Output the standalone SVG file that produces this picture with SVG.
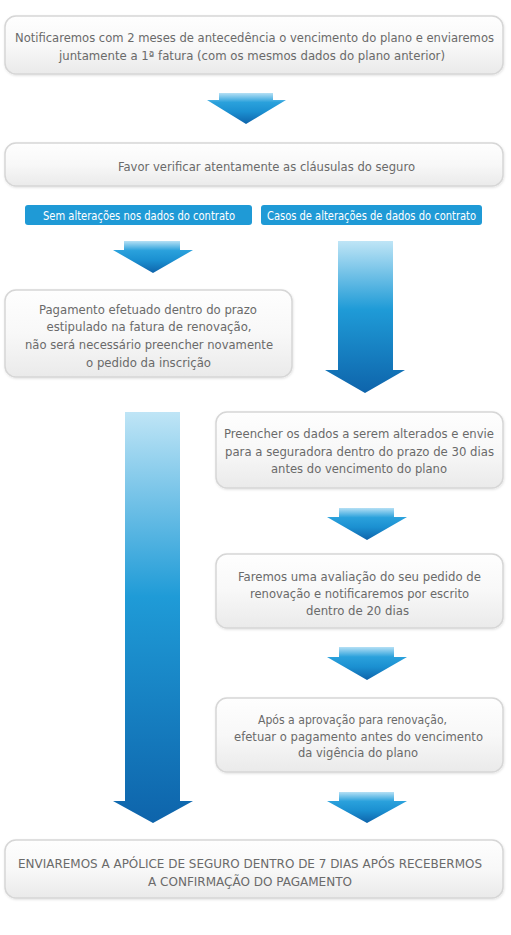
<svg xmlns="http://www.w3.org/2000/svg" width="511" height="935" viewBox="0 0 511 935">
<style>
  .box { fill: url(#boxGrad); stroke: #d6d6d6; stroke-width: 1.5; filter: url(#shadow); }
  .t { font-family: "DejaVu Sans Condensed", "DejaVu Sans", sans-serif; font-size: 13px; fill: #6a6a6a; text-anchor: middle; }
  .lbl { fill: #1f9ad6; }
  .lt { font-family: "DejaVu Sans Condensed", "DejaVu Sans", sans-serif; font-size: 12.5px; fill: #ffffff; text-anchor: middle; }
  .ash { fill: url(#shortGrad); }
  .alg { fill: url(#longGrad); }
</style>
<defs>
  <linearGradient id="boxGrad" x1="0" y1="0" x2="0" y2="1">
    <stop offset="0" stop-color="#fefefe"/>
    <stop offset="0.5" stop-color="#f8f8f8"/>
    <stop offset="1" stop-color="#eaeaea"/>
  </linearGradient>
  <linearGradient id="shortGrad" x1="0" y1="0" x2="0" y2="1">
    <stop offset="0" stop-color="#b5e0f5"/>
    <stop offset="0.3" stop-color="#2aa1dc"/>
    <stop offset="0.6" stop-color="#1b90d1"/>
    <stop offset="1" stop-color="#0e64ab"/>
  </linearGradient>
  <linearGradient id="longGrad" x1="0" y1="0" x2="0" y2="1">
    <stop offset="0" stop-color="#bfe5f6"/>
    <stop offset="0.45" stop-color="#1f9bd7"/>
    <stop offset="1" stop-color="#0e64ab"/>
  </linearGradient>
  <filter id="shadow" x="-5%" y="-10%" width="110%" height="130%">
    <feDropShadow dx="0.5" dy="1" stdDeviation="1" flood-color="#000" flood-opacity="0.12"/>
  </filter>
</defs>
<rect width="511" height="935" fill="#ffffff"/>

<g id="connectors">
  <polygon class="ash" points="219,93 273,93 273,100 286,100 246,124 207,100 219,100"/>
  <polygon class="ash" points="124,241 180,241 180,250 193,250 153,273 113,250 124,250"/>
  <polygon class="alg" points="338,241 393,241 393,370 405,370 365,393 325,370 338,370"/>
  <polygon class="alg" points="125,412 180,412 180,801 193,801 153,823 113,801 125,801"/>
  <polygon class="ash" points="339,508 394,508 394,517 407,517 367,540 327,517 339,517"/>
  <polygon class="ash" points="339,647 394,647 394,657 407,657 367,680 327,657 339,657"/>
  <polygon class="ash" points="339,792 394,792 394,801 407,801 367,823 327,801 339,801"/>
</g>

<g id="node-notify">
  <rect class="box" x="5" y="16" width="498" height="58" rx="11"/>
  <text class="t" x="254.5" y="42" textLength="479" lengthAdjust="spacingAndGlyphs">Notificaremos com 2 meses de antecedência o vencimento do plano e enviaremos</text>
  <text class="t" x="252" y="60" textLength="386" lengthAdjust="spacingAndGlyphs">juntamente a 1ª fatura (com os mesmos dados do plano anterior)</text>
</g>

<g id="node-verify">
  <rect class="box" x="5" y="143" width="498" height="43" rx="11"/>
  <text class="t" x="266.5" y="171" textLength="297" lengthAdjust="spacingAndGlyphs">Favor verificar atentamente as cláusulas do seguro</text>
</g>

<g id="label-sem">
  <rect class="lbl" x="25" y="205" width="227" height="20" rx="3"/>
  <text class="lt" x="139" y="220" textLength="192" lengthAdjust="spacingAndGlyphs">Sem alterações nos dados do contrato</text>
</g>

<g id="label-casos">
  <rect class="lbl" x="261" y="205" width="221" height="20" rx="3"/>
  <text class="lt" x="371.5" y="220" textLength="209" lengthAdjust="spacingAndGlyphs">Casos de alterações de dados do contrato</text>
</g>

<g id="node-pagamento">
  <rect class="box" x="5" y="290" width="287" height="87" rx="11"/>
  <text class="t" x="148" y="314" textLength="218" lengthAdjust="spacingAndGlyphs">Pagamento efetuado dentro do prazo</text>
  <text class="t" x="149" y="331" textLength="205" lengthAdjust="spacingAndGlyphs">estipulado na fatura de renovação,</text>
  <text class="t" x="149" y="349" textLength="248" lengthAdjust="spacingAndGlyphs">não será necessário preencher novamente</text>
  <text class="t" x="148.5" y="367" textLength="125" lengthAdjust="spacingAndGlyphs">o pedido da inscrição</text>
</g>

<g id="node-preencher">
  <rect class="box" x="216" y="412" width="287" height="76" rx="11"/>
  <text class="t" x="359" y="438" textLength="270" lengthAdjust="spacingAndGlyphs">Preencher os dados a serem alterados e envie</text>
  <text class="t" x="359.5" y="456" textLength="269" lengthAdjust="spacingAndGlyphs">para a seguradora dentro do prazo de 30 dias</text>
  <text class="t" x="359" y="473" textLength="176" lengthAdjust="spacingAndGlyphs">antes do vencimento do plano</text>
</g>

<g id="node-avaliacao">
  <rect class="box" x="216" y="554" width="287" height="74" rx="11"/>
  <text class="t" x="359.5" y="581" textLength="243" lengthAdjust="spacingAndGlyphs">Faremos uma avaliação do seu pedido de</text>
  <text class="t" x="359.5" y="598" textLength="219" lengthAdjust="spacingAndGlyphs">renovação e notificaremos por escrito</text>
  <text class="t" x="357.5" y="615" textLength="103" lengthAdjust="spacingAndGlyphs">dentro de 20 dias</text>
</g>

<g id="node-aprovacao">
  <rect class="box" x="216" y="698" width="287" height="74" rx="11"/>
  <text class="t" x="352.5" y="724" textLength="189" lengthAdjust="spacingAndGlyphs">Após a aprovação para renovação,</text>
  <text class="t" x="358.5" y="741" textLength="249" lengthAdjust="spacingAndGlyphs">efetuar o pagamento antes do vencimento</text>
  <text class="t" x="358" y="757" textLength="120" lengthAdjust="spacingAndGlyphs">da vigência do plano</text>
</g>

<g id="node-apolice">
  <rect class="box" x="5" y="840" width="498" height="58" rx="11"/>
  <text class="t" x="250" y="868" textLength="464" lengthAdjust="spacingAndGlyphs">ENVIAREMOS A APÓLICE DE SEGURO DENTRO DE 7 DIAS APÓS RECEBERMOS</text>
  <text class="t" x="250" y="886" textLength="204" lengthAdjust="spacingAndGlyphs">A CONFIRMAÇÃO DO PAGAMENTO</text>
</g>
</svg>
